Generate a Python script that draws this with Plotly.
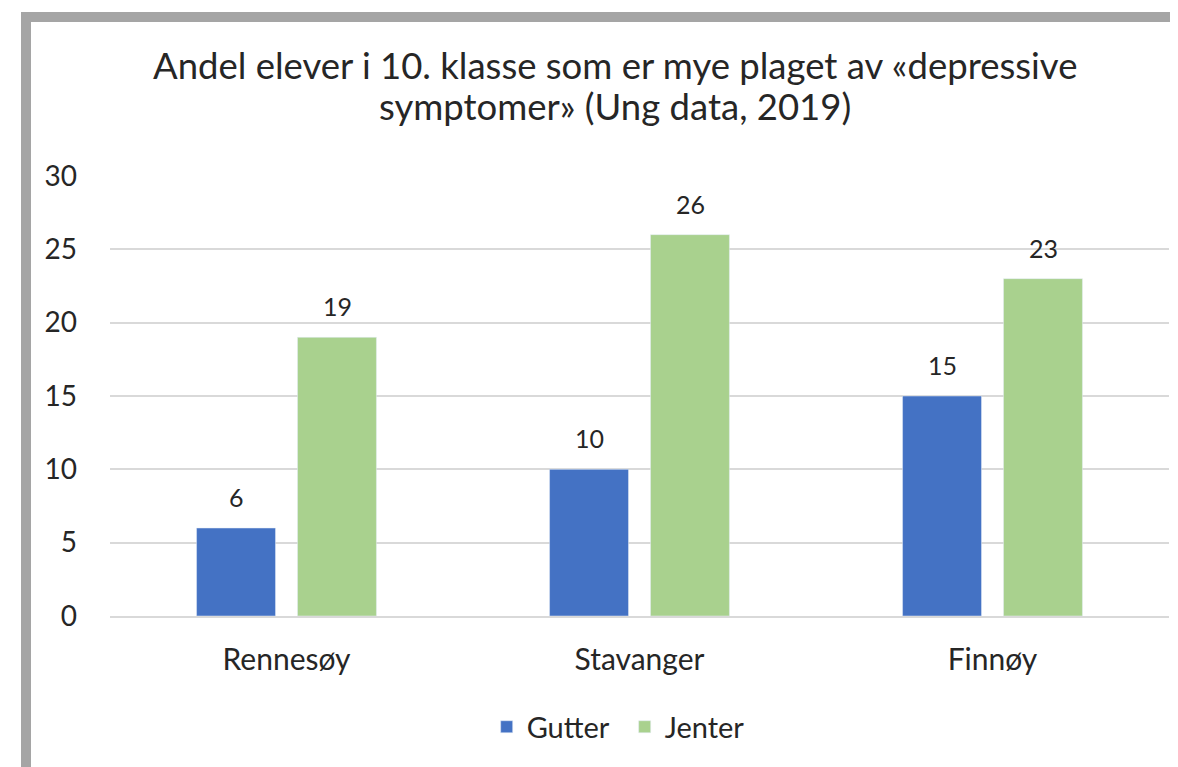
import plotly.graph_objects as go

kommuner = ["Rennesøy", "Stavanger", "Finnøy"]
gutter = [6, 10, 15]
jenter = [19, 26, 23]

tittel_1 = "Andel elever i 10. klasse som er mye plaget av «depressive"
tittel_2 = "symptomer» (Ung data, 2019)"

FONT = "Lato"
TXT = "#262626"
L, W = 102, 1059

fig = go.Figure()
fig.add_trace(go.Bar(x=kommuner, y=gutter, name="Gutter", marker_color="#4472C4"))
fig.add_trace(go.Bar(x=kommuner, y=jenter, name="Jenter", marker_color="#A9D18E"))

# dataetiketter over søylene
for verdier, skift in [(gutter, -50.5), (jenter, 50.5)]:
    for k, v in zip(kommuner, verdier):
        fig.add_annotation(x=k, y=v, text=str(v), showarrow=False, xshift=skift, yshift=31,
                           yanchor="middle", font=dict(size=25, family=FONT, color=TXT))

# tittel i to linjer (tettere linjeavstand enn <br>)
for linje, ypos in [(tittel_1, 57), (tittel_2, 98)]:
    fig.add_annotation(text=linje, xref="paper", yref="paper", x=(607 - L) / W,
                       y=(608 - ypos) / 440, xanchor="center", yanchor="middle", showarrow=False,
                       font=dict(size=36.5, family=FONT, color=TXT))

# siden har 8 px marg i nettleseren, så figuren er 8 px mindre
fig.update_layout(
    width=1170, height=759,
    margin=dict(l=L, r=1170 - L - W, t=168, b=151),
    paper_bgcolor="white", plot_bgcolor="white",
    font=dict(family=FONT, color=TXT),
    barmode="group", bargap=0.428, bargroupgap=0.218,
    legend=dict(orientation="h", x=0.486, xanchor="center", y=-0.252, yanchor="middle",
                entrywidth=93, font=dict(size=29, family=FONT, color=TXT)),
)
fig.update_yaxes(range=[0, 30], dtick=5, showgrid=True, gridcolor="#D9D9D9", gridwidth=2,
                 zeroline=False, showline=False, ticks="", ticklabelstandoff=32,
                 tickfont=dict(size=28, family=FONT, color=TXT))
fig.update_xaxes(showline=True, linecolor="#D9D9D9", linewidth=2, ticks="",
                 ticklabelstandoff=16, tickfont=dict(size=30, family=FONT, color=TXT))

# grå ramme rundt figuren
fig.add_shape(type="rect", xref="paper", yref="paper",
              x0=(18 - L) / W, x1=(1200 - L) / W,
              y0=(608 - 800) / 440, y1=(608 - 9) / 440,
              line=dict(color="#A5A5A5", width=10), fillcolor="rgba(0,0,0,0)", layer="below")

fig.write_html("out.html")
